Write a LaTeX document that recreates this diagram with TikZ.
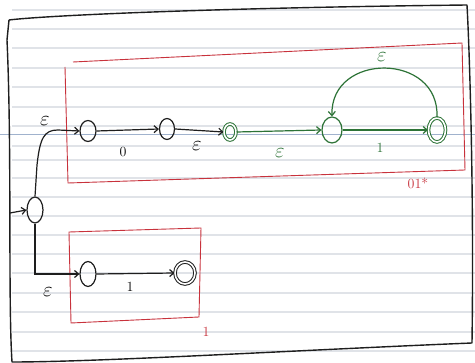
\documentclass[tikz,border=0pt]{standalone}
\usetikzlibrary{shapes.geometric,arrows.meta}
\definecolor{inkblack}{RGB}{30,30,30}
\definecolor{inkred}{RGB}{200,50,60}
\definecolor{inkgreen}{RGB}{45,115,55}
\definecolor{ruleline}{RGB}{224,227,232}
\definecolor{marginblue}{RGB}{160,178,205}
\tikzset{
  st/.style={ellipse,draw=inkblack,line width=1.2pt,inner sep=0pt},
  gst/.style={st,draw=inkgreen},
  acc/.style={double=white,double distance=1.6pt,line width=1pt},
  edge/.style={line width=1.2pt,draw=inkblack,-{Straight Barb[length=4pt,width=7pt]}},
  gedge/.style={edge,draw=inkgreen},
  lbl/.style={font=\fontsize{14}{14}\selectfont,inner sep=0pt},
  epslbl/.style={font=\fontsize{21}{21}\selectfont,inner sep=0pt},
  redbox/.style={draw=inkred,line width=0.9pt},
}
\newcommand{\eps}{$\varepsilon$}
\begin{document}
\begin{tikzpicture}[x=1pt,y=-1pt]
\fill[white] (0,0) rectangle (475,363);
\useasboundingbox (0,0) rectangle (475,363);
% ruled paper
\foreach \yy in {10,29,48,68,87,107,126,146,160,178,197,216,235,254,273,293,312,332,351}
  \draw[ruleline,line width=1.3pt] (12,\yy) -- (475,\yy);
\draw[marginblue,line width=1pt] (0,135) -- (475,135);
% black frame
\draw[inkblack,line width=1.4pt,line join=round]
  (9,20) .. controls (40,16) and (200,8) .. (467,5)
  .. controls (470,60) and (474,200) .. (472,343)
  .. controls (300,350) and (100,362) .. (12,362)
  .. controls (8,300) and (12,150) .. (7,40) -- (9,20);
% red boxes
\draw[redbox] (73,62) -- (462,43) -- (465,170) -- (68,183) -- (65,67);
\draw[redbox] (69,232) -- (201,228) -- (199,317) -- (71,323) -- cycle;
\node[lbl,text=inkred] (lab01) at (418,183) {01*};
\node[lbl,text=inkred] (labone) at (206,332) {1};
% states
\node[st,minimum width=16pt,minimum height=26pt] (s0) at (35,210) {};
\node[st,minimum width=16pt,minimum height=21pt] (a) at (88,131) {};
\node[st,minimum width=15pt,minimum height=21pt] (b) at (167,129) {};
\node[gst,acc,minimum width=12pt,minimum height=16pt] (c) at (230,132) {};
\node[gst,minimum width=20pt,minimum height=26pt] (d) at (332,130) {};
\node[gst,acc,minimum width=17pt,minimum height=24pt] (e) at (437,130) {};
\node[st,minimum width=16pt,minimum height=25pt] (f) at (88,274) {};
\node[st,acc,minimum width=20pt,minimum height=22pt] (g) at (185,273) {};
% start arrow
\coordinate (in) at (10,213);
\draw[edge] (in) -- (s0.west);
% epsilon branches
\draw[edge] (s0.north) -- (37,165) .. controls (40,138) and (44,130) .. (58,130) -- (a.west);
\draw[edge] (s0.south) |- (f.west);
\node[epslbl] (e1) at (45,121) {\eps};
\node[epslbl] (e2) at (48,292) {\eps};
% upper machine
\draw[edge] (a.east) -- (b.west);
\node[lbl] (l0) at (123,152) {0};
\draw[edge] (b.east) -- (c.west);
\node[epslbl] (e3) at (197,146) {\eps};
\draw[gedge] (c.east) -- (d.west);
\node[epslbl,text=inkgreen] (e4) at (280,153) {\eps};
\draw[gedge] (d.east) -- (e.west);
\node[lbl,text=inkgreen] (l1) at (380,148) {1};
\draw[gedge] (e.north) .. controls (440,52) and (330,52) .. (d.north);
\node[epslbl,text=inkgreen] (e5) at (382,57) {\eps};
% lower machine
\draw[edge] (f.east) -- (g.west);
\node[lbl] (l2) at (130,287) {1};
\end{tikzpicture}
\end{document}
